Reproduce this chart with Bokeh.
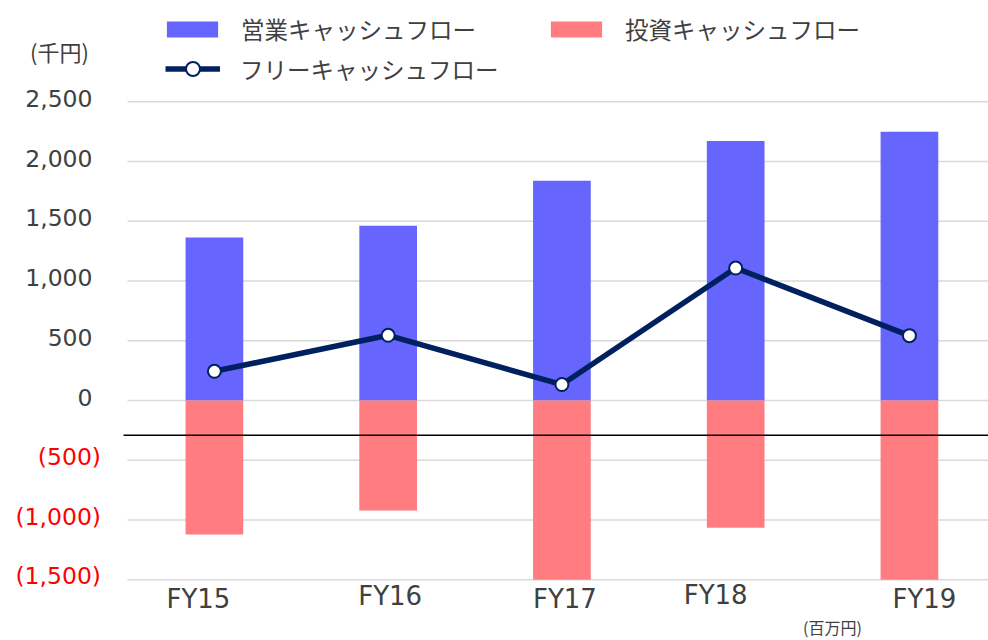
from bokeh.plotting import figure
from bokeh.models import Range1d, Label, Legend, LegendItem, ColumnDataSource
from bokeh.embed import file_html
from bokeh.resources import INLINE

# ---- data ----
categories = ["FY15", "FY16", "FY17", "FY18", "FY19"]
operating_cf = [1365, 1463, 1839, 2173, 2249]
investing_cf = [-1120, -920, -1705, -1064, -1706]
free_cf = [245, 546, 134, 1109, 543]
y_ticks = [-1500, -1000, -500, 0, 500, 1000, 1500, 2000, 2500]
series_names = ["営業キャッシュフロー", "投資キャッシュフロー", "フリーキャッシュフロー"]
unit_left = "(千円)"
unit_bottom = "(百万円)"
ref_line_value = -290

# ---- style ----
label_dx = [-16, 2, 3, -20, 15]     # category label horizontal tweaks (px)
label_dy = [0, 3, 0, 4, 0]          # category label vertical tweaks (px, up)
BLUE = "#6666FF"
PINK = "#FF7C80"
NAVY = "#002060"
GRAY = "#404040"
NUM_FONT = "DejaVu Sans"
JP_FONT = "Noto Sans CJK JP"

W, H = 988, 640
X0, X1 = -1.231, 4.455        # whole canvas is the frame
Y0, Y1 = -2008, 3348
AX_MIN, AX_MAX = y_ticks[0], y_ticks[-1]
PLOT_LEFT = -0.5

p = figure(width=W, height=H, output_backend="svg", toolbar_location=None,
           x_range=Range1d(X0, X1), y_range=Range1d(Y0, Y1),
           min_border=0)
p.outline_line_color = None
p.xaxis.visible = False
p.yaxis.visible = False
p.xgrid.visible = False
p.ygrid.visible = False

n = len(categories)
# gridlines
p.segment(x0=[PLOT_LEFT] * len(y_ticks), x1=[X1] * len(y_ticks),
          y0=y_ticks, y1=y_ticks, line_color="#D9D9D9", line_width=1.5)

xs = list(range(n))
inv_shown = [max(v, AX_MIN) for v in investing_cf]   # axis clips at its minimum
src = ColumnDataSource(dict(x=xs, op=operating_cf, inv=inv_shown, free=free_cf))

r_op = p.vbar(x="x", top="op", bottom=0, width=0.332, source=src,
              fill_color=BLUE, line_color=None)
r_inv = p.vbar(x="x", top=0, bottom="inv", width=0.332, source=src,
               fill_color=PINK, line_color=None)

p.segment(x0=[PLOT_LEFT - 0.023], x1=[X1], y0=[ref_line_value], y1=[ref_line_value],
          line_color="black", line_width=1.5)

r_line = p.line(x="x", y="free", source=src, line_color=NAVY, line_width=5.5)
r_pts = p.scatter(x="x", y="free", source=src, size=13, fill_color="white",
                  line_color=NAVY, line_width=2)

# y tick labels
for t in y_ticks:
    if t < 0:
        txt = "({:,})".format(-t)
        col = "#FF0000"
        xr = 100.5
    else:
        txt = "{:,}".format(t)
        col = GRAY
        xr = 92
    p.add_layout(Label(x=xr, x_units="screen", y=t, y_units="data", text=txt,
                       text_align="right", text_baseline="middle",
                       text_font=NUM_FONT, text_font_size="23.5px",
                       text_color=col, y_offset=3.5))

# category labels
for i, c in enumerate(categories):
    p.add_layout(Label(x=i, x_units="data", y=42 + label_dy[i], y_units="screen",
                       x_offset=label_dx[i], text=c, text_align="center",
                       text_baseline="middle", text_font=NUM_FONT,
                       text_font_size="26px", text_color=GRAY))

p.add_layout(Label(x=59, x_units="screen", y=H - 50, y_units="screen",
                   text=unit_left, text_align="center", text_baseline="middle",
                   text_font=JP_FONT, text_font_size="22px", text_color=GRAY))
p.add_layout(Label(x=832, x_units="screen", y=14, y_units="screen",
                   text=unit_bottom, text_align="center", text_baseline="middle",
                   text_font=JP_FONT, text_font_size="16px", text_color=GRAY))

leg1 = Legend(items=[LegendItem(label=series_names[0], renderers=[r_op]),
                     LegendItem(label=series_names[1], renderers=[r_inv])],
              orientation="horizontal", location=(160, 594),
              glyph_width=64, glyph_height=20, label_standoff=17, spacing=68,
              padding=0, margin=0, border_line_color=None,
              background_fill_alpha=0, label_text_font=JP_FONT,
              label_text_font_size="23.5px", label_text_color=GRAY)
leg2 = Legend(items=[LegendItem(label=series_names[2], renderers=[r_line, r_pts])],
              orientation="horizontal", location=(165, 554),
              glyph_width=55, glyph_height=35, label_standoff=20,
              padding=0, margin=0, border_line_color=None,
              background_fill_alpha=0, label_text_font=JP_FONT,
              label_text_font_size="23.5px", label_text_color=GRAY)
p.add_layout(leg1)
p.add_layout(leg2)

open("out.html", "w").write(file_html(p, INLINE))
